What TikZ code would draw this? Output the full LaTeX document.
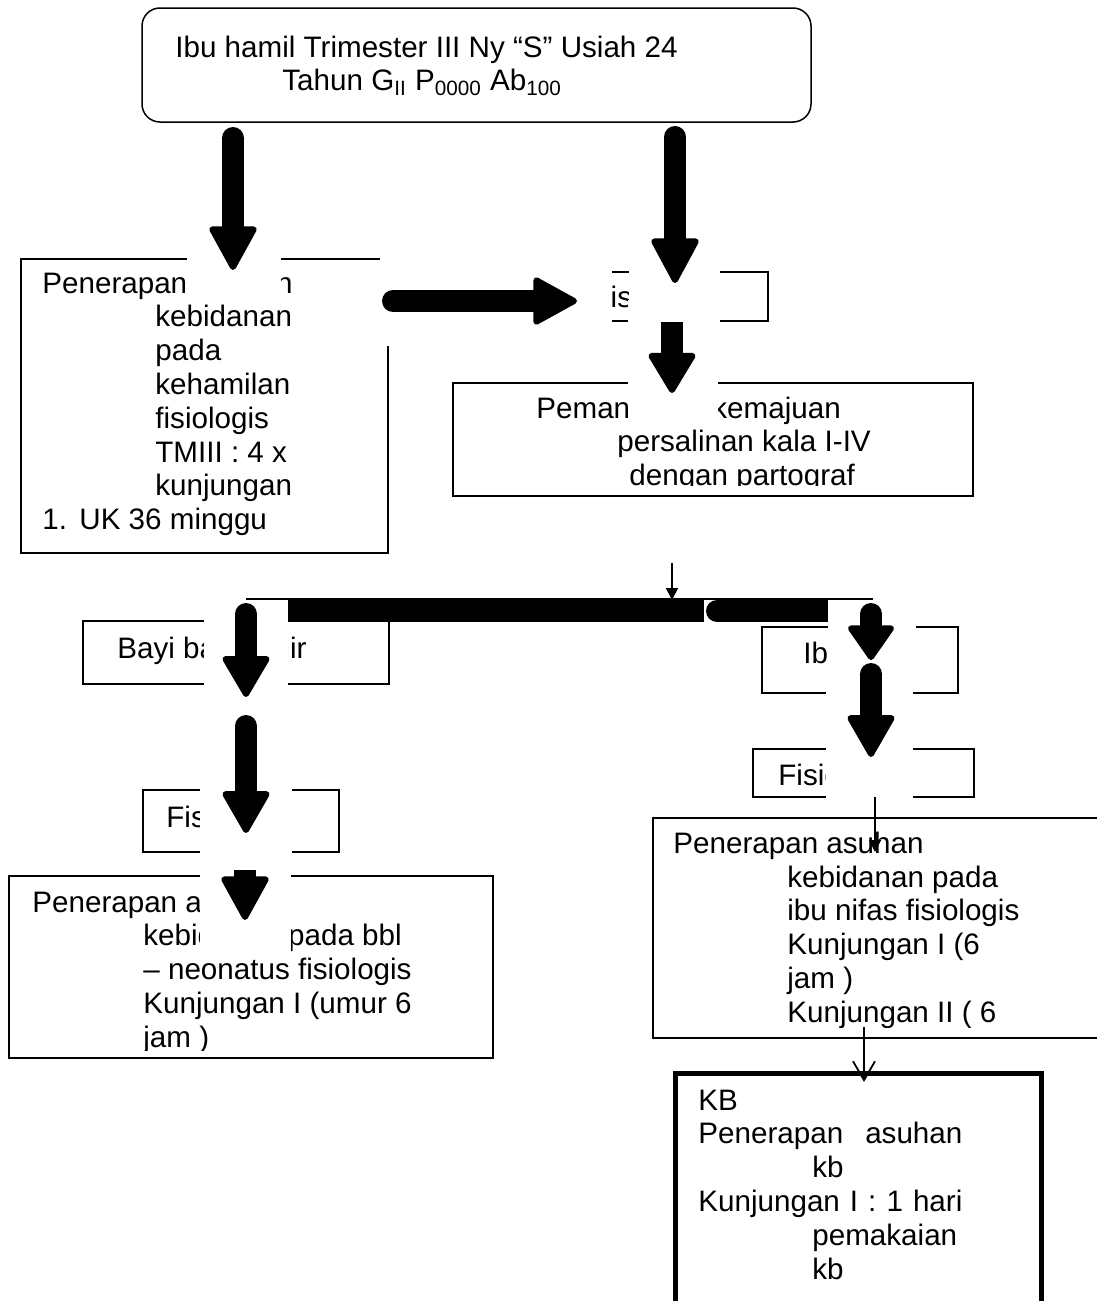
\documentclass[tikz,border=0pt]{standalone}
\usepackage{fontspec}
\setmainfont{Liberation Sans}
\usetikzlibrary{arrows.meta,fit}
\newcommand{\hgap}[1]{\hspace*{#1pt}}

\begin{document}
\begin{tikzpicture}[x=0.5pt, y=-0.5pt,
    box/.style={draw, line width=0.75pt, inner sep=0pt},
    txt/.style={anchor=north west, inner sep=0pt, align=left, yshift=11.83pt,
      font=\fontsize{14.8pt}{16.9pt}\selectfont, execute at begin node=\strut},
    mask/.style={fill=white},
    fat/.style={line width=11pt, line cap=round,
      -{Triangle[length=#1, width=25pt, line width=3pt, round]}},
    fat/.default=23.5pt,
    conn/.style={line width=0.9pt, -{Triangle[length=6pt, width=6pt]}}]
  \useasboundingbox (0,0) rectangle (1097,1301);

  % boxes and their texts
  \node[box, rounded corners=9pt, fit={(142,8) (811,122)}] (ibu) {};
  \node[txt] (ibut) at (175,59) {Ibu hamil Trimester III Ny “S” Usiah 24\\\hgap{53.5}Tahun G\textsubscript{II} P\textsubscript{0000} Ab\textsubscript{100}};

  \node[box, fit={(21,259) (388,553)}] (anc) {};
  \node[txt] (anct) at (42,295) {Penerapan asuhan\\\hgap{56.5}kebidanan\\\hgap{56.5}pada\\\hgap{56.5}kehamilan\\\hgap{56.5}fisiologis\\\hgap{56.5}TMIII : 4 x\\\hgap{56.5}kunjungan\\\makebox[18.5pt][l]{1.}UK 36 minggu};

  \node[box, fit={(480,272) (768,321)}] (inc) {};
  \node[txt] (inct) at (487,307) {Bersalin fisiologis};

  \node[box, fit={(453,383) (973,496)}] (pantau) {};
  \begin{scope}
    \clip (453,383) rectangle (973,485.5);
    \node[txt] (pantaut) at (536,420) {Pemantauan kemajuan\\\hgap{40.5}persalinan kala I-IV\\\hgap{46.5}dengan partograf};
  \end{scope}

  \node[box, fit={(83,621) (389,684)}] (bbl) {};
  \node[txt] (bblt) at (117,658) {Bayi baru lahir};
  \node[box, fit={(762,627) (958,693)}] (nifas) {};
  \node[txt] (nifast) at (803,663) {Ibu nifas};
  \node[box, fit={(143,790) (339,852)}] (fisbbl) {};
  \node[txt] (fisbblt) at (166,827) {Fisiologis};
  \node[box, fit={(753,749) (974,797)}] (fisnifas) {};
  \node[txt] (fisnifast) at (778,785) {Fisiologis};

  \node[box, fit={(9,876) (493,1058)}] (asbbl) {};
  \begin{scope}
    \clip (9,876) rectangle (493,1050);
    \node[txt] (asbblt) at (32,914) {Penerapan asuhan\\\hgap{55.5}kebidanan pada bbl\\\hgap{55.5}-- neonatus fisiologis\\\hgap{55.5}Kunjungan I (umur 6\\\hgap{55.5}jam )};
  \end{scope}

  \node[box, fit={(653,818) (1104,1038)}] (asnifas) {};
  \begin{scope}
    \clip (653,818) rectangle (1104,1027);
    \node[txt] (asnifast) at (673,855) {Penerapan asuhan\\\hgap{57}kebidanan pada\\\hgap{57}ibu nifas fisiologis\\\hgap{57}Kunjungan I (6\\\hgap{57}jam )\\\hgap{57}Kunjungan II ( 6};
  \end{scope}

  \node[box, line width=2.5pt, fit={(675,1073) (1041,1330)}] (kb) {};
  \node[txt] (kbt) at (698,1113) {KB\\\makebox[132pt][s]{Penerapan asuhan}\\\hgap{57}kb\\\makebox[132pt][s]{Kunjungan I : 1 hari}\\\hgap{57}pemakaian\\\hgap{57}kb};

  % split bar
  \coordinate (barl) at (246,599);
  \coordinate (barr) at (873,599);
  \coordinate (b1l) at (288,611);
  \coordinate (b1r) at (704,611);
  \coordinate (b2l) at (717,611);
  \coordinate (b2r) at (860,611);
  \draw[line width=0.75pt] (barl) -- (barr);
  \draw[line width=11pt] (b1l) -- (b1r);
  \draw[line width=11pt, line cap=round] (b2l) -- (b2r);

  % fat arrows, each on a white patch
  \coordinate (ahs) at (393,301);
  \coordinate (ahe) at (577,301);
  \fill[mask] (380,250) rectangle (612.2,346);
  \draw[fat] (ahs) -- (ahe);

  \coordinate (a1s) at (233,138);
  \coordinate (a1e) at (233,270);
  \fill[mask] (187,125) rectangle (281,302);
  \draw[fat] (a1s) -- (a1e);

  \coordinate (a3s) at (672,310);
  \coordinate (a3e) at (672,393);
  \fill[mask] (628,300) rectangle (718,428);
  \draw[fat=21.5pt] (a3s) -- (a3e);

  \coordinate (a2s) at (675,137);
  \coordinate (a2e) at (675,283);
  \fill[mask] (629,125) rectangle (720,322);
  \draw[fat=24pt] (a2s) -- (a2e);

  \coordinate (a5s) at (246,614);
  \coordinate (a5e) at (246,697);
  \fill[mask] (204,600) rectangle (288,705);
  \draw[fat=22pt] (a5s) -- (a5e);

  \coordinate (a8s) at (245,868);
  \coordinate (a8e) at (245,920);
  \fill[mask] (200,862) rectangle (291,956);
  \draw[fat] (a8s) -- (a8e);

  \coordinate (a7s) at (246,726);
  \coordinate (a7e) at (246,833);
  \fill[mask] (200,705) rectangle (292,870);
  \draw[fat=22.5pt] (a7s) -- (a7e);

  \coordinate (a6s) at (871,614);
  \coordinate (a6e) at (871,660);
  \fill[mask] (828,600) rectangle (916,662);
  \draw[fat=18.5pt] (a6s) -- (a6e);

  \coordinate (a9s) at (871,674);
  \coordinate (a9e) at (871,757);
  \fill[mask] (826,660) rectangle (913,800);
  \draw[fat=22.5pt] (a9s) -- (a9e);

  % thin arrows
  \coordinate (t1s) at (672,563);
  \coordinate (t1e) at (672,600);
  \draw[conn] (t1s) -- (t1e);
  \coordinate (t2s) at (875,797);
  \coordinate (t2e) at (875,852);
  \draw[conn] (t2s) -- (t2e);
  \coordinate (t3s) at (864,1027);
  \coordinate (t3e) at (864,1082);
  \draw[line width=0.9pt, -{Straight Barb[length=9.5pt, width=11pt]}] (t3s) -- (t3e);
\end{tikzpicture}
\end{document}
